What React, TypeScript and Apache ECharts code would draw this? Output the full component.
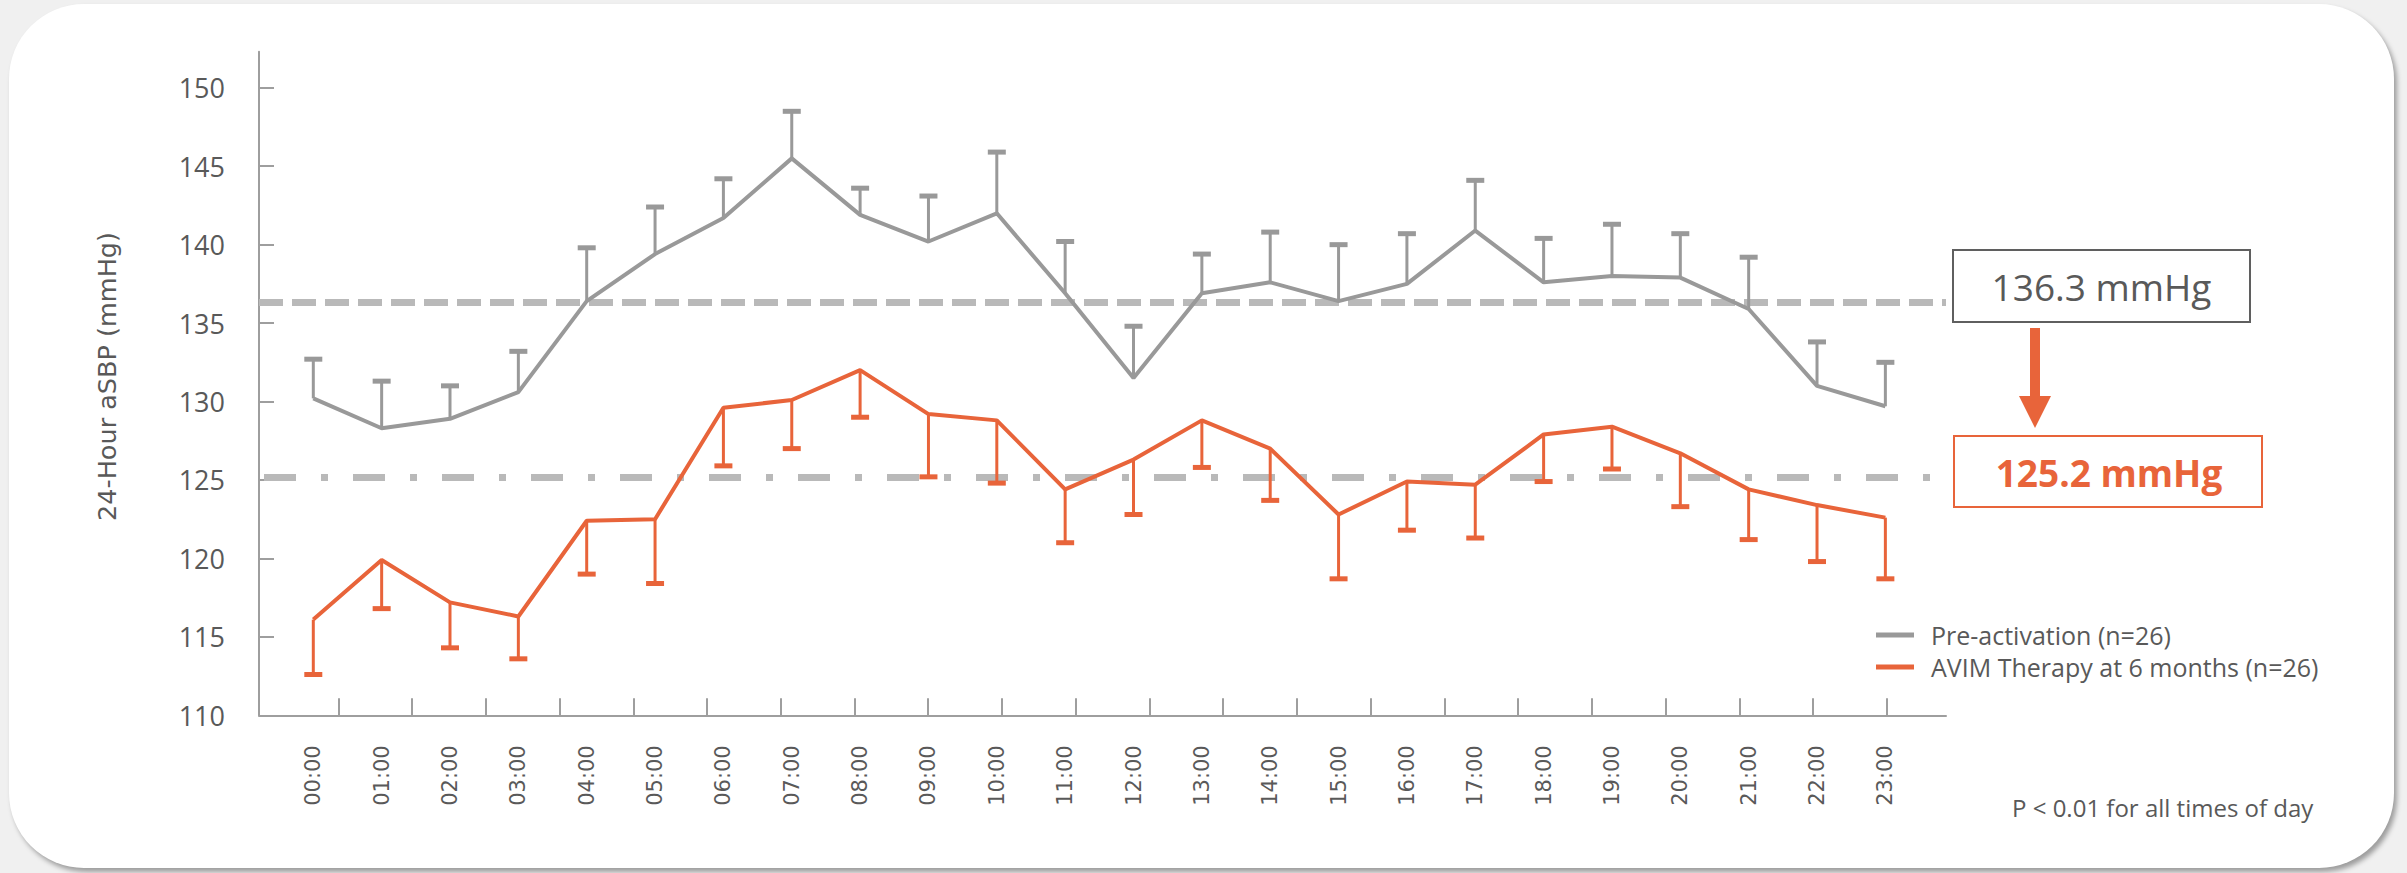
import React, { useEffect, useRef } from "react";
import * as echarts from "echarts";

// Hour-of-day categories
const hours = [
  "00:00", "01:00", "02:00", "03:00", "04:00", "05:00", "06:00", "07:00",
  "08:00", "09:00", "10:00", "11:00", "12:00", "13:00", "14:00", "15:00",
  "16:00", "17:00", "18:00", "19:00", "20:00", "21:00", "22:00", "23:00",
];

// Mean ambulatory systolic BP before activation, and upper error bound
const preActivation = [
  130.2, 128.3, 128.9, 130.6, 136.4, 139.4, 141.7, 145.5,
  141.9, 140.2, 142.0, 136.9, 131.5, 136.9, 137.6, 136.4,
  137.5, 140.9, 137.6, 138.0, 137.9, 135.9, 131.0, 129.7,
];
const preActivationUpper = [
  132.7, 131.3, 131.0, 133.2, 139.8, 142.4, 144.2, 148.5,
  143.6, 143.1, 145.9, 140.2, 134.8, 139.4, 140.8, 140.0,
  140.7, 144.1, 140.4, 141.3, 140.7, 139.2, 133.8, 132.5,
];

// Mean ambulatory systolic BP with AVIM therapy at 6 months, and lower error bound
const avimTherapy = [
  116.1, 119.9, 117.2, 116.3, 122.4, 122.5, 129.6, 130.1,
  132.0, 129.2, 128.8, 124.4, 126.3, 128.8, 127.0, 122.8,
  124.9, 124.7, 127.9, 128.4, 126.7, 124.4, 123.4, 122.6,
];
const avimTherapyLower = [
  112.6, 116.8, 114.3, 113.6, 119.0, 118.4, 125.9, 127.0,
  129.0, 125.2, 124.8, 121.0, 122.8, 125.8, 123.7, 118.7,
  121.8, 121.3, 124.9, 125.7, 123.3, 121.2, 119.8, 118.7,
];

// 24-hour means
const preMean = 136.3;
const avimMean = 125.2;

// Y axis tick values
const yTicks = [110, 115, 120, 125, 130, 135, 140, 145, 150];
// Positions of the minor tick marks along the time axis
const timeTicks = [0, 1, 2, 3, 4, 5, 6, 7, 8, 9, 10, 11, 12, 13, 14, 15, 16, 17, 18, 19, 20, 21];

const seriesNames = ["Pre-activation (n=26)", "AVIM Therapy at 6 months (n=26)"];

const GRAY = "#999999";
const ORANGE = "#E8643A";
const TEXT = "#595959";
const AXIS = "#9e9e9e";
const SANS = "'Open Sans', 'Noto Sans', sans-serif";
const AXIS_FONT = "'DejaVu Sans', Verdana, sans-serif";

function errorBarRenderer(color: string) {
  return (params: any, api: any) => {
    const x = api.value(0);
    const mean = api.value(1);
    const bound = api.value(2);
    const p0 = api.coord([x, mean]);
    const p1 = api.coord([x, bound]);
    const half = 9;
    return {
      type: "group",
      children: [
        {
          type: "line",
          shape: { x1: p0[0], y1: p0[1], x2: p1[0], y2: p1[1] },
          style: { stroke: color, lineWidth: 3 },
        },
        {
          type: "line",
          shape: { x1: p1[0] - half, y1: p1[1], x2: p1[0] + half, y2: p1[1] },
          style: { stroke: color, lineWidth: 5 },
        },
      ],
    };
  };
}

export default function App() {
  const ref = useRef<HTMLDivElement | null>(null);

  useEffect(() => {
    if (!ref.current) return;
    const chart = echarts.init(ref.current, null, { renderer: "svg" });

    const preData = hours.map((_, i) => [i, preActivation[i]]);
    const avimData = hours.map((_, i) => [i, avimTherapy[i]]);
    const preErr = hours.map((_, i) => [i, preActivation[i], preActivationUpper[i]]);
    const avimErr = hours.map((_, i) => [i, avimTherapy[i], avimTherapyLower[i]]);

    chart.setOption({
      animation: false,
      backgroundColor: "transparent",
      grid: { left: 259, right: 461, top: 51.7, bottom: 157.7, containLabel: false },
      legend: {
        data: seriesNames,
        orient: "vertical",
        left: 1871,
        top: 614,
        itemWidth: 38,
        itemHeight: 5,
        itemGap: 0,
        icon: "rect",
        selectedMode: false,
        textStyle: {
          color: TEXT,
          fontFamily: SANS,
          fontSize: 25,
          lineHeight: 32,
          padding: [0, 0, 0, 12],
        },
      },
      xAxis: [
        {
          type: "value",
          min: -0.7944,
          max: 23.887,
          position: "bottom",
          axisLine: { show: true, onZero: false, lineStyle: { color: AXIS, width: 2 } },
          axisTick: { show: false },
          splitLine: { show: false },
          axisLabel: {
            customValues: hours.map((_, i) => i),
            formatter: (v: number) => hours[Math.round(v)] ?? "",
            rotate: 90,
            margin: 30,
            fontSize: 21,
            color: TEXT,
            fontFamily: AXIS_FONT,
          },
        },
        {
          type: "value",
          min: -1.0754,
          max: 21.802,
          position: "bottom",
          axisLine: { show: false, onZero: false },
          axisTick: {
            show: true,
            inside: true,
            length: 17,
            customValues: timeTicks,
            lineStyle: { color: AXIS, width: 2 },
          },
          axisLabel: { show: false },
          splitLine: { show: false },
        },
      ],
      yAxis: {
        type: "value",
        min: 110,
        max: 152.3,
        axisLine: { show: true, onZero: false, lineStyle: { color: AXIS, width: 2 } },
        axisTick: {
          show: true,
          inside: true,
          length: 15,
          customValues: yTicks,
          lineStyle: { color: AXIS, width: 2 },
        },
        axisLabel: {
          customValues: yTicks,
          margin: 34,
          fontSize: 27,
          color: TEXT,
          fontFamily: SANS,
        },
        splitLine: { show: false },
      },
      series: [
        {
          name: seriesNames[0],
          type: "line",
          xAxisIndex: 0,
          data: preData,
          color: GRAY,
          symbol: "none",
          z: 4,
          lineStyle: { color: GRAY, width: 4 },
          markLine: {
            silent: true,
            symbol: ["none", "none"],
            z: 1,
            label: { show: false },
            lineStyle: { color: "#b9b9b9", width: 7, type: [24, 9] },
            data: [{ yAxis: preMean }],
          },
        },
        {
          name: seriesNames[1],
          type: "line",
          xAxisIndex: 0,
          data: avimData,
          color: ORANGE,
          symbol: "none",
          z: 4,
          lineStyle: { color: ORANGE, width: 4 },
          markLine: {
            silent: true,
            symbol: ["none", "none"],
            z: 1,
            label: { show: false },
            lineStyle: { color: "#b9b9b9", width: 7, type: [32, 25, 7, 25], dashOffset: -5 },
            data: [{ yAxis: avimMean }],
          },
        },
        {
          name: "pre-err",
          type: "custom",
          xAxisIndex: 0,
          data: preErr,
          encode: { x: 0, y: [1, 2] },
          renderItem: errorBarRenderer(GRAY),
          z: 3,
          silent: true,
        },
        {
          name: "avim-err",
          type: "custom",
          xAxisIndex: 0,
          data: avimErr,
          encode: { x: 0, y: [1, 2] },
          renderItem: errorBarRenderer(ORANGE),
          z: 3,
          silent: true,
        },
      ],
      graphic: [
        {
          type: "text",
          x: 107,
          y: 376.5,
          rotation: Math.PI / 2,
          style: {
            text: "24-Hour aSBP (mmHg)",
            fill: TEXT,
            font: `25.5px ${AXIS_FONT}`,
            align: "center",
            verticalAlign: "middle",
          },
        },
        {
          type: "rect",
          shape: { x: 1953, y: 250, width: 297, height: 72 },
          style: { fill: "#ffffff", stroke: "#5f5f5f", lineWidth: 2 },
        },
        {
          type: "text",
          x: 2101.5,
          y: 286,
          style: {
            text: `${preMean} mmHg`,
            fill: TEXT,
            font: `37px ${SANS}`,
            align: "center",
            verticalAlign: "middle",
          },
        },
        {
          type: "rect",
          shape: { x: 2030, y: 328, width: 10, height: 70 },
          style: { fill: ORANGE },
        },
        {
          type: "polygon",
          shape: { points: [[2019, 396], [2051, 396], [2035, 428]] },
          style: { fill: ORANGE },
        },
        {
          type: "rect",
          shape: { x: 1954, y: 436, width: 308, height: 71 },
          style: { fill: "#ffffff", stroke: ORANGE, lineWidth: 2 },
        },
        {
          type: "text",
          x: 2109,
          y: 472,
          style: {
            text: `${avimMean} mmHg`,
            fill: ORANGE,
            font: `bold 37px ${SANS}`,
            align: "center",
            verticalAlign: "middle",
          },
        },
        {
          type: "text",
          x: 2012,
          y: 807,
          style: {
            text: "P < 0.01 for all times of day",
            fill: TEXT,
            font: `24px ${SANS}`,
            align: "left",
            verticalAlign: "middle",
          },
        },
      ],
    });

    return () => chart.dispose();
  }, []);

  return (
    <div style={{ position: "fixed", left: 0, top: 0, width: 2407, height: 873, background: "#f0f0f0", overflow: "hidden" }}>
      <div
        style={{
          position: "absolute",
          left: 9,
          top: 4,
          width: 2385,
          height: 864,
          background: "#ffffff",
          borderRadius: 75,
          boxShadow: "3px 4px 5px rgba(0,0,0,0.35)",
        }}
      />
      <div ref={ref} style={{ position: "absolute", left: 0, top: 0, width: 2407, height: 873 }} />
    </div>
  );
}
